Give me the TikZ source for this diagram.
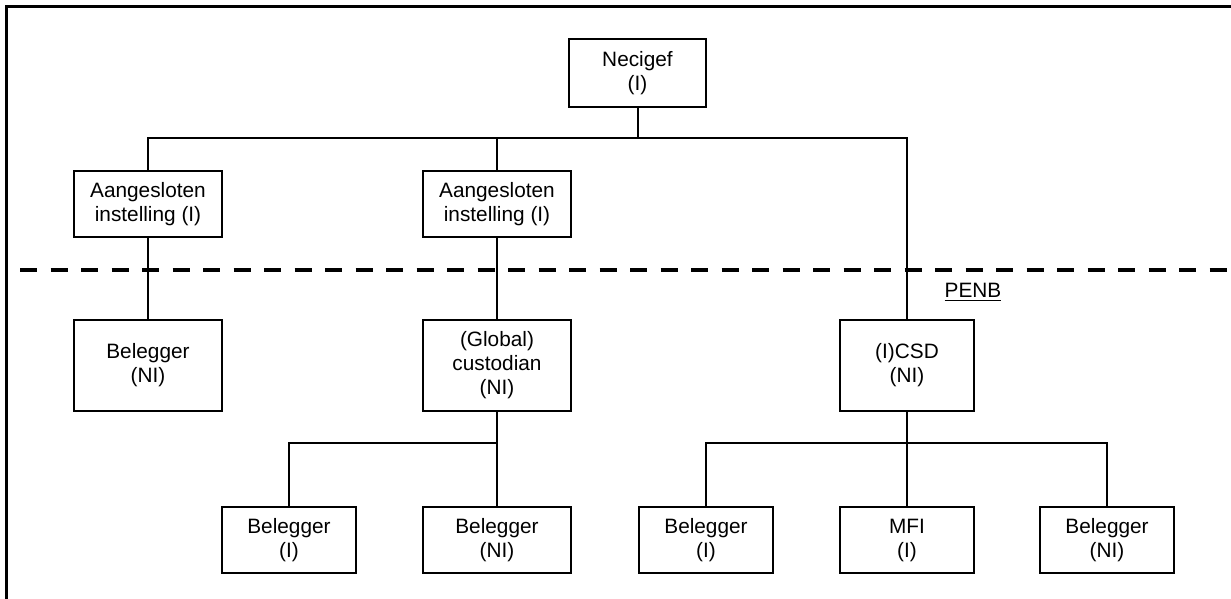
\documentclass[tikz,border=0pt]{standalone}
\usepackage{fontspec}
\setmainfont{Liberation Sans}
\usepackage{tikz}

\begin{document}
\begin{tikzpicture}[x=0.5pt,y=-0.5pt,
    org/.style={draw,line width=1pt,align=center,inner sep=0pt,
      font=\fontsize{10.4}{12}\selectfont,minimum height=33pt},
    wide/.style={org,minimum width=74pt},
    narrow/.style={org,minimum width=67pt},
    tall/.style={minimum height=45.5pt},
    link/.style={line width=1pt}]
      \useasboundingbox (0,0) rectangle (1231,599);
      \draw[line width=1.5pt] (6,599) -- (6,7) -- (1231,7);
      % boxes above the line
      \node[narrow,minimum width=68.5pt,minimum height=34pt] (nec) at (637.5,73) {Necigef\\(I)};
      \node[wide] (aangL) at (148,204) {Aangesloten\\instelling (I)};
      \node[wide] (aangR) at (497,204) {Aangesloten\\instelling (I)};
      % boxes below the line
      \node[wide,tall] (belL) at (148,365.5) {Belegger\\(NI)};
      \node[wide,tall] (cust) at (497,365.5) {(Global)\\custodian\\(NI)};
      \node[narrow,tall] (csd) at (907,365.5) {(I)CSD\\(NI)};
      \node[narrow] (belCI) at (289,540) {Belegger\\(I)};
      \node[wide] (belCNI) at (497,540) {Belegger\\(NI)};
      \node[narrow] (belDI) at (706,540) {Belegger\\(I)};
      \node[narrow] (mfi) at (907,540) {MFI\\(I)};
      \node[narrow] (belDNI) at (1107,540) {Belegger\\(NI)};
      % connectors
      \coordinate (busA) at (637.5,138);
      \coordinate (busC) at (497,443);
      \coordinate (busD) at (907,443);
      \draw[link] (nec.south) -- (busA);
      \draw[link] (aangL.north) |- (busA) -| (csd.north);
      \draw[link] (aangR.north) -- (aangR.north |- busA);
      \draw[link] (aangL.south) -- (belL.north);
      \draw[link] (aangR.south) -- (cust.north);
      \draw[link] (cust.south) -- (belCNI.north);
      \draw[link] (belCI.north) |- (busC);
      \draw[link] (csd.south) -- (mfi.north);
      \draw[link] (belDI.north) |- (busD) -| (belDNI.north);
      % PENB border
      \draw[line width=2pt,dash pattern=on 8.5pt off 6.75pt] (20,270) -- (1231,270);
      \node[font=\fontsize{10.4}{12}\selectfont] (penb) at (973,292) {\underline{PENB}};
\end{tikzpicture}
\end{document}
